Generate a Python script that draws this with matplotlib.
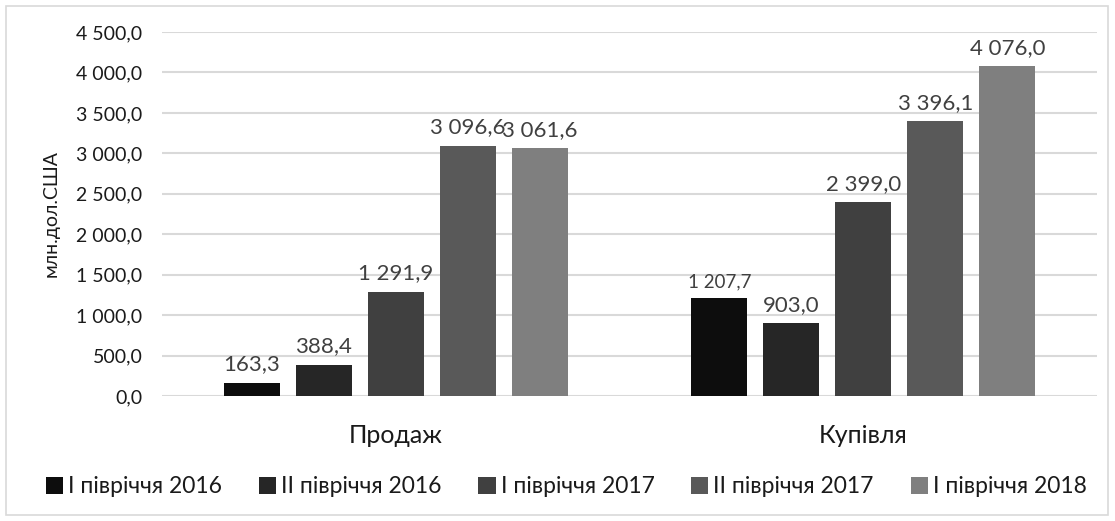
import matplotlib
matplotlib.use("Agg")
import matplotlib.pyplot as plt
from matplotlib.patches import Patch, Rectangle
import numpy as np

plt.rcParams['font.family'] = ['Lato', 'DejaVu Sans']

categories = ["Продаж", "Купівля"]
series_names = ["I півріччя 2016", "II півріччя 2016", "I півріччя 2017",
                "II півріччя 2017", "I півріччя 2018"]
values = {
    "I півріччя 2016": [163.3, 1207.7],
    "II півріччя 2016": [388.4, 903.0],
    "I півріччя 2017": [1291.9, 2399.0],
    "II півріччя 2017": [3096.6, 3396.1],
    "I півріччя 2018": [3061.6, 4076.0],
}
colors = ["#0d0d0d", "#262626", "#404040", "#595959", "#7f7f7f"]
y_ticks = [0, 500, 1000, 1500, 2000, 2500, 3000, 3500, 4000, 4500]
y_label = "млн.дол.США"


def fmt(v):
    s = f"{v:,.1f}"
    return s.replace(",", " ").replace(".", ",")


fig = plt.figure(figsize=(11.15, 5.21), dpi=100)
ax = fig.add_axes([0.1453, 0.2399, 0.8386, 0.6987])

x = np.arange(len(categories))
step = 0.154
width = 0.12
for i, name in enumerate(series_names):
    off = (i - 2) * step
    bars = ax.bar(x + off, values[name], width, color=colors[i], label=name, zorder=3)
    for j, (b, v) in enumerate(zip(bars, values[name])):
        small = (name == "I півріччя 2016" and j == 1)
        ax.annotate(fmt(v), (b.get_x() + b.get_width() / 2, v),
                    xytext=(0, 6), textcoords="offset points",
                    ha="center", va="bottom",
                    fontsize=13.5 if small else 16, color="#404040")

ax.set_xlim(-0.5, 1.5)
ax.set_ylim(0, 4500)
ax.set_yticks(y_ticks)
ax.set_yticklabels([fmt(t) for t in y_ticks], fontsize=14, color="#1a1a1a")
ax.set_xticks(x)
ax.set_xticklabels(categories, fontsize=18, color="#1a1a1a")
ax.tick_params(axis="both", length=0)
ax.tick_params(axis="y", pad=14)
ax.tick_params(axis="x", pad=20)
ax.grid(axis="y", color="#d9d9d9", linewidth=1.5, zorder=0)
for s in ax.spines.values():
    s.set_visible(False)
ax.set_ylabel(y_label, fontsize=14, color="#1a1a1a")
ax.yaxis.set_label_coords(-0.11, 0.5)

handles = [Patch(facecolor=c, edgecolor="none") for c in colors]
fig.legend(handles, series_names, loc="center", bbox_to_anchor=(0.508, 0.066),
           ncol=5, frameon=False, fontsize=16.5, handlelength=0.75, handleheight=0.75,
           handletextpad=0.22, columnspacing=1.6, labelcolor="#1a1a1a")

fig.add_artist(Rectangle((6 / 1115, 6 / 521), 1102 / 1115, 509 / 521,
                         transform=fig.transFigure, fill=False,
                         edgecolor="#d9d9d9", linewidth=1.2))

fig.savefig("out.png", dpi=100)
